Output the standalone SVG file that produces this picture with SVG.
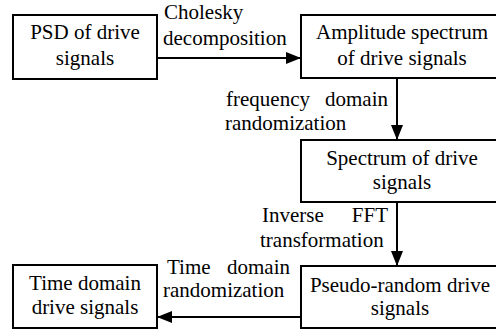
<svg xmlns="http://www.w3.org/2000/svg" width="496" height="329" viewBox="0 0 496 329">
<defs>
<marker id="ah" viewBox="0 0 15 12" refX="15" refY="6" markerWidth="15" markerHeight="12" markerUnits="userSpaceOnUse" orient="auto">
<path d="M0,0 L15,6 L0,12 Z" fill="#000"/>
</marker>
<style>
.box{fill:#fff;stroke:#000;stroke-width:2}
.t{font-family:'Liberation Serif',serif;font-size:21px;fill:#000}
.c{text-anchor:middle}
.e{text-anchor:end}
.ln{stroke:#000;stroke-width:2;fill:none;marker-end:url(#ah)}
</style>
</defs>
<rect width="496" height="329" fill="#fff"/>
<g id="connectors">
<line class="ln" x1="157" y1="58" x2="301" y2="58"/>
<line class="ln" x1="397" y1="78" x2="397" y2="140"/>
<line class="ln" x1="397" y1="202" x2="397" y2="266"/>
<line class="ln" x1="301" y1="317" x2="157" y2="317"/>
<text class="t" font-family="Liberation Serif" x="164" y="19">Cholesky</text>
<text class="t" font-family="Liberation Serif" x="163" y="45">decomposition</text>
<text class="t" font-family="Liberation Serif" x="226" y="106">frequency</text>
<text class="t e" font-family="Liberation Serif" x="388" y="106">domain</text>
<text class="t" font-family="Liberation Serif" x="225" y="130">randomization</text>
<text class="t" font-family="Liberation Serif" x="262" y="222">Inverse</text>
<text class="t e" font-family="Liberation Serif" x="388" y="222">FFT</text>
<text class="t" font-family="Liberation Serif" x="260" y="247">transformation</text>
<text class="t" font-family="Liberation Serif" x="167" y="274">Time</text>
<text class="t e" font-family="Liberation Serif" x="290" y="274">domain</text>
<text class="t" font-family="Liberation Serif" x="163" y="297">randomization</text>
</g>
<g id="n1">
<rect class="box" x="13" y="15" width="144" height="64"/>
<text class="t c" x="85" y="39">PSD of drive</text>
<text class="t c" x="85" y="65">signals</text>
</g>
<g id="n2">
<rect class="box" x="301" y="15" width="210" height="63"/>
<text class="t c" x="402" y="39">Amplitude spectrum</text>
<text class="t c" x="402" y="65">of drive signals</text>
</g>
<g id="n3">
<rect class="box" x="301" y="140" width="210" height="62"/>
<text class="t c" x="402" y="165">Spectrum of drive</text>
<text class="t c" x="402" y="189">signals</text>
</g>
<g id="n4">
<rect class="box" x="301" y="266" width="210" height="62"/>
<text class="t c" x="400" y="292">Pseudo-random drive</text>
<text class="t c" x="400" y="315">signals</text>
</g>
<g id="n5">
<rect class="box" x="13" y="265" width="144" height="63"/>
<text class="t c" x="85" y="290">Time domain</text>
<text class="t c" x="85" y="314">drive signals</text>
</g>
</svg>
